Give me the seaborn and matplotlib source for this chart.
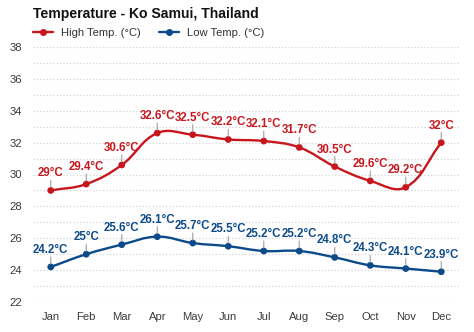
import numpy as np
import pandas as pd
import matplotlib
matplotlib.use("Agg")
import matplotlib.pyplot as plt
from matplotlib.path import Path
from matplotlib.patches import PathPatch
from matplotlib.lines import Line2D
import seaborn as sns

months = ["Jan", "Feb", "Mar", "Apr", "May", "Jun",
          "Jul", "Aug", "Sep", "Oct", "Nov", "Dec"]
high_temp = [29, 29.4, 30.6, 32.6, 32.5, 32.2, 32.1, 31.7, 30.5, 29.6, 29.2, 32]
low_temp = [24.2, 25, 25.6, 26.1, 25.7, 25.5, 25.2, 25.2, 24.8, 24.3, 24.1, 23.9]
y_ticks = [22, 24, 26, 28, 30, 32, 34, 36, 38]

RED = "#c8161d"
BLUE = "#0c4a8a"

sns.set_theme(style="white")
plt.rcParams["font.family"] = ["Liberation Sans", "DejaVu Sans"]

W, H = 474, 332
fig = plt.figure(figsize=(W / 100, H / 100), dpi=100)
ax = fig.add_axes([33 / W, 1 - 302 / H, 426 / W, 255 / H])

df = pd.DataFrame({
    "pos": list(range(len(months))) * 2,
    "temp": high_temp + low_temp,
    "series": ["High Temp. (°C)"] * len(months) + ["Low Temp. (°C)"] * len(months),
})

ax.set_xlim(-0.5, len(months) - 0.5)
ax.set_ylim(y_ticks[0], y_ticks[-1])


def smooth_path(xs, ys, tension=0.4):
    """Cardinal-style bezier through the points, computed in display space."""
    pts = ax.transData.transform(np.column_stack([xs, ys]))
    n = len(pts)
    prev_ctrl = np.zeros_like(pts)
    next_ctrl = np.zeros_like(pts)
    for i in range(n):
        p0 = pts[i - 1] if i > 0 else pts[i]
        p1 = pts[i]
        p2 = pts[i + 1] if i < n - 1 else pts[i]
        d01 = np.hypot(*(p1 - p0))
        d12 = np.hypot(*(p2 - p1))
        tot = d01 + d12
        s01 = d01 / tot if tot else 0
        s12 = d12 / tot if tot else 0
        prev_ctrl[i] = p1 - tension * s01 * (p2 - p0)
        next_ctrl[i] = p1 + tension * s12 * (p2 - p0)
    verts = [pts[0]]
    codes = [Path.MOVETO]
    for i in range(1, n):
        verts += [next_ctrl[i - 1], prev_ctrl[i], pts[i]]
        codes += [Path.CURVE4] * 3
    verts = ax.transData.inverted().transform(np.array(verts))
    return Path(verts, codes)


x_pos = np.arange(len(months))
for vals, color in [(high_temp, RED), (low_temp, BLUE)]:
    ax.add_patch(PathPatch(smooth_path(x_pos, vals), facecolor="none",
                           edgecolor=color, lw=1.7, zorder=3,
                           capstyle="round", joinstyle="round"))

sns.scatterplot(data=df, x="pos", y="temp", hue="series",
                palette=[RED, BLUE], s=24, edgecolor="none",
                legend=False, ax=ax, zorder=4)

# value labels with short leader lines
for vals, color in [(high_temp, RED), (low_temp, BLUE)]:
    for x, v in zip(x_pos, vals):
        ax.annotate("", xy=(x, v), xytext=(0, 10), textcoords="offset pixels",
                    arrowprops=dict(arrowstyle="-", color="#a0a0a0", lw=0.8,
                                    shrinkA=0, shrinkB=3 * 0.72),
                    zorder=5)
        ax.annotate(f"{v:g}°C", xy=(x, v), xytext=(0, 14),
                    textcoords="offset pixels", ha="center", va="baseline",
                    fontsize=8.3, fontweight="bold", color=color, zorder=6)

ax.set_xticks(x_pos)
ax.set_xticklabels(months)
ax.set_yticks(y_ticks)
ax.set_yticks(np.arange(y_ticks[0], y_ticks[-1] + 1, 1), minor=True)
ax.grid(True, axis="y", which="both", linestyle=":", color="#d4d4d4", lw=0.9)
ax.set_axisbelow(True)
ax.tick_params(axis="both", which="both", length=0, labelsize=8.1, labelcolor="#3a3a3a")
ax.tick_params(axis="y", pad=8)
ax.tick_params(axis="x", pad=7)
ax.set_xlabel("")
ax.set_ylabel("")
for s in ax.spines.values():
    s.set_visible(False)

fig.text(33 / W, 1 - 14 / H, "Temperature - Ko Samui, Thailand",
         fontsize=10.1, fontweight="bold", color="#111111", ha="left", va="center")

handles = [
    Line2D([], [], color=RED, lw=1.7, marker="o", markersize=4),
    Line2D([], [], color=BLUE, lw=1.7, marker="o", markersize=4),
]
fig.legend(handles, ["High Temp. (°C)", "Low Temp. (°C)"], loc="center left",
           bbox_to_anchor=(33 / W, 1 - 33 / H), ncol=2, frameon=False,
           fontsize=8.1, handlelength=1.8, handletextpad=0.7, columnspacing=1.6,
           borderpad=0, borderaxespad=0, labelcolor="#333333")

fig.savefig("out.png", dpi=100)
